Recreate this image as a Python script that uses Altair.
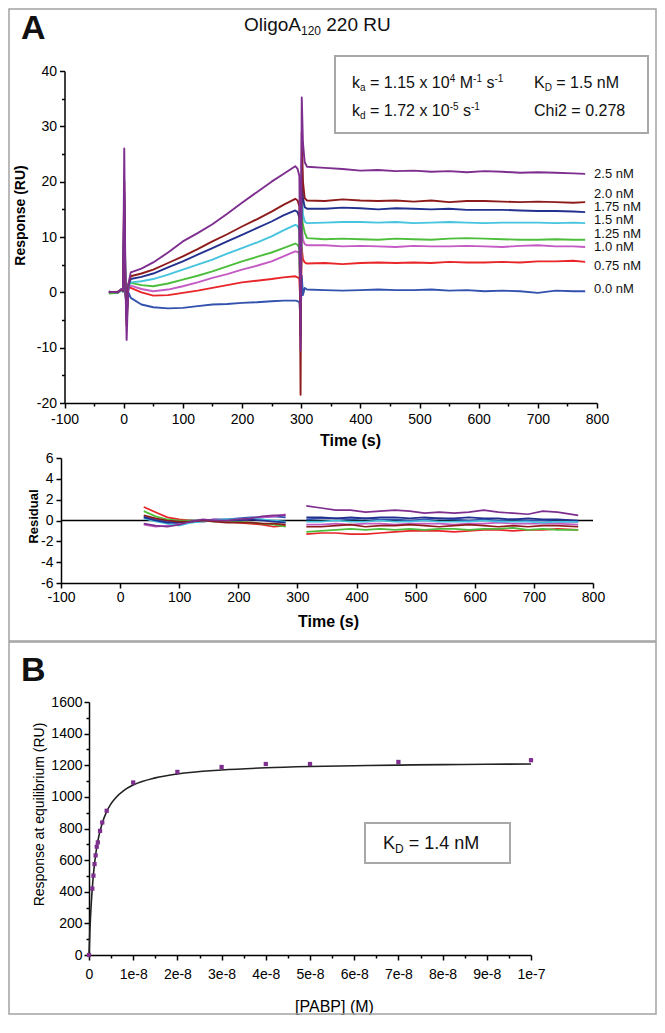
import altair as alt
import pandas as pd

# ---------------- data: sensorgram (panel A, top) ----------------
TIME = [-25, -10, -4, -1, 1, 3, 5, 8, 12,
        30, 50, 75, 100, 125, 150, 175, 200, 225, 250, 270, 290,
        294, 297, 299, 301, 303, 306,
        310, 340, 370, 400, 430, 460, 490, 520, 550, 580, 610, 640, 670, 700, 730, 760, 780]

CONCS = ["0.0 nM", "0.75 nM", "1.0 nM", "1.25 nM", "1.5 nM", "1.75 nM", "2.0 nM", "2.5 nM"]
COLORS = ["#3352AE", "#E8262A", "#C45BC4", "#4DBE3C", "#45C4DE", "#22318F", "#8E1B1B", "#7D2E8F"]
WIDTHS = [1.9, 1.9, 1.9, 3.0, 1.9, 1.9, 1.9, 1.9]

R_000 = [0.0, 0.0, 0.3, 0.1, 10.0, 0.0, -3.0, 0.0, -1.0,
         -2.2, -2.7, -2.9, -2.8, -2.5, -2.2, -2.1, -1.9, -1.8, -1.6, -1.5, -1.5,
         -1.6, -1.8, -5.0, 3.0, -0.5, 0.8,
         0.5, 0.4, 0.3, 0.4, 0.5, 0.4, 0.4, 0.5, 0.3, 0.4, 0.2, 0.3, 0.2, -0.1, 0.3, 0.2, 0.2]
R_075 = [0.0, 0.1, 0.3, 0.2, 11.0, 0.6, -3.0, 0.9, 0.8,
         0.0, -0.6, -0.5, -0.1, 0.3, 0.8, 1.3, 1.8, 2.1, 2.4, 2.7, 2.9,
         2.7, 2.5, -3.0, 8.0, 6.0, 5.4,
         5.2, 5.3, 5.1, 5.3, 5.4, 5.3, 5.4, 5.3, 5.5, 5.4, 5.4, 5.5, 5.4, 5.6, 5.6, 5.7, 5.5]
R_100 = [0.0, 0.0, 0.3, 0.2, 13.0, 0.8, -3.5, 1.0, 1.2,
         0.6, 0.2, 0.5, 1.1, 1.8, 2.6, 3.3, 4.1, 4.8, 5.6, 6.5, 7.4,
         7.3, 7.0, -4.0, 12.0, 9.5, 8.7,
         8.5, 8.5, 8.3, 8.4, 8.3, 8.2, 8.4, 8.3, 8.3, 8.4, 8.3, 8.2, 8.4, 8.5, 8.3, 8.3, 8.2]
R_125 = [-0.2, -0.1, 0.4, 0.2, 15.0, 1.0, -4.0, 1.5, 1.7,
         1.3, 1.1, 1.6, 2.3, 3.0, 3.8, 4.7, 5.6, 6.4, 7.2, 8.0, 8.8,
         8.6, 8.0, -5.0, 14.0, 12.2, 10.8,
         9.8, 9.6, 9.7, 9.6, 9.5, 9.7, 9.6, 9.5, 9.7, 9.8, 9.7, 9.6, 9.5, 9.5, 9.6, 9.5, 9.5]
R_150 = [0.0, 0.1, 0.4, 0.2, 16.0, 1.0, -4.5, 1.0, 1.8,
         2.0, 2.4, 3.2, 4.1, 5.0, 5.9, 7.0, 8.0, 9.0, 10.1, 11.2, 12.2,
         12.0, 11.2, -6.0, 20.0, 14.0, 12.8,
         12.5, 12.6, 12.7, 12.7, 12.6, 12.7, 12.5, 12.6, 12.7, 12.6, 12.5, 12.6, 12.6, 12.6, 12.5, 12.6, 12.5]
R_175 = [0.1, 0.0, 0.5, 0.3, 18.0, 1.2, -5.0, 1.2, 2.4,
         2.8, 3.4, 4.5, 5.6, 6.8, 8.0, 9.2, 10.4, 11.6, 12.8, 13.9, 14.8,
         14.5, 13.5, -8.0, 24.0, 17.0, 15.4,
         15.1, 15.1, 15.3, 15.2, 15.0, 15.2, 15.1, 15.0, 15.1, 14.9, 14.9, 14.9, 14.8, 14.7, 14.7, 14.6, 14.5]
R_200 = [0.0, 0.1, 0.5, 0.3, 20.0, 1.5, -6.0, 1.5, 2.9,
         3.4, 4.1, 5.3, 6.5, 7.8, 9.2, 10.5, 11.9, 13.2, 14.6, 15.8, 16.9,
         16.6, 15.5, -18.5, 29.0, 20.0, 17.0,
         16.6, 16.5, 16.8, 16.6, 16.5, 16.6, 16.4, 16.6, 16.3, 16.5, 16.5, 16.4, 16.3, 16.4, 16.3, 16.2, 16.3]
R_250 = [0.1, 0.0, 0.6, 0.4, 26.0, 2.0, -8.6, 1.5, 3.6,
         4.3, 5.4, 7.2, 9.2, 10.7, 12.3, 14.2, 16.2, 18.1, 20.0, 21.4, 22.8,
         22.3, 21.0, -10.5, 35.2, 27.0, 23.5,
         22.7, 22.5, 22.3, 22.0, 22.1, 21.9, 22.0, 21.8, 21.9, 21.7, 21.9, 21.8, 21.6, 21.7, 21.6, 21.5, 21.4]
SENSOR = [R_000, R_075, R_100, R_125, R_150, R_175, R_200, R_250]

LABEL_T = 795
LABEL_TEXT = ["2.5 nM", "2.0 nM", "1.75 nM", "1.5 nM", "1.25 nM", "1.0 nM", "0.75 nM", "0.0 nM"]
LABEL_Y = [21.4, 17.8, 15.4, 13.0, 10.6, 8.2, 4.8, 0.6]

# ---------------- data: residuals ----------------
RES_T_A = [40, 60, 80, 100, 120, 140, 160, 180, 200, 220, 240, 260, 280]
RES_T_D = [315, 340, 365, 390, 415, 440, 465, 490, 515, 540, 565, 590, 615, 640, 665, 690, 715, 740, 775]
RES_A = [
    [0.4, 0.1, -0.1, -0.1, 0.0, 0.0, 0.1, 0.1, 0.2, 0.3, 0.3, 0.4, 0.3],
    [1.3, 0.8, 0.3, 0.1, 0.0, -0.1, 0.0, -0.1, -0.2, -0.3, -0.4, -0.6, -0.5],
    [-0.4, -0.6, -0.5, -0.2, 0.0, 0.0, 0.1, 0.0, 0.0, 0.1, 0.3, 0.4, 0.6],
    [0.9, 0.4, 0.1, 0.0, 0.0, 0.0, -0.1, 0.0, -0.1, -0.2, -0.3, -0.4, -0.6],
    [0.2, -0.1, -0.3, -0.5, -0.2, -0.1, 0.0, 0.1, 0.1, 0.2, 0.1, 0.0, -0.1],
    [0.3, 0.0, -0.2, -0.2, -0.1, 0.0, 0.0, 0.0, 0.0, 0.1, 0.0, -0.1, -0.2],
    [0.5, 0.2, 0.0, -0.1, -0.1, 0.0, -0.1, -0.2, -0.2, -0.2, -0.3, -0.3, -0.4],
    [-0.3, -0.5, -0.6, -0.4, -0.1, 0.1, 0.0, 0.0, 0.1, 0.2, 0.4, 0.5, 0.5],
]
RES_D = [
    [0.1, 0.2, 0.2, 0.1, 0.2, 0.1, 0.1, 0.0, 0.1, 0.2, 0.1, 0.0, 0.1, 0.0, 0.1, 0.0, 0.0, -0.1, -0.1],
    [-1.3, -1.2, -1.2, -1.3, -1.3, -1.2, -1.1, -1.0, -1.0, -1.0, -1.1, -1.0, -0.9, -0.9, -1.0, -0.9, -0.9, -0.8, -0.9],
    [-0.4, -0.4, -0.3, -0.4, -0.3, -0.3, -0.4, -0.3, -0.3, -0.3, -0.4, -0.3, -0.3, -0.2, -0.3, -0.3, -0.3, -0.3, -0.4],
    [-1.1, -1.0, -0.9, -0.8, -0.9, -0.8, -0.9, -0.8, -0.9, -0.8, -0.8, -0.9, -0.8, -0.8, -0.7, -0.9, -0.8, -0.9, -0.9],
    [-0.1, -0.1, 0.0, -0.1, -0.1, 0.0, -0.1, -0.1, 0.0, -0.1, -0.1, -0.1, 0.0, -0.1, -0.1, -0.1, -0.2, -0.1, -0.1],
    [0.3, 0.3, 0.2, 0.3, 0.2, 0.3, 0.3, 0.2, 0.3, 0.2, 0.2, 0.3, 0.2, 0.2, 0.1, 0.2, 0.1, 0.1, 0.0],
    [-0.6, -0.6, -0.5, -0.4, -0.6, -0.5, -0.5, -0.4, -0.5, -0.6, -0.5, -0.4, -0.5, -0.6, -0.5, -0.6, -0.5, -0.5, -0.6],
    [1.4, 1.2, 1.0, 1.0, 0.8, 0.9, 1.0, 0.9, 0.7, 0.8, 0.7, 0.8, 1.0, 0.8, 0.7, 0.6, 0.9, 0.8, 0.5],
]

# ---------------- data: panel B ----------------
PT_C = [0, 0.75, 1.0, 1.25, 1.5, 1.75, 2.0, 2.5, 3.0, 4.0, 10, 20, 30, 40, 50, 70, 100]   # nM
PT_R = [0, 420, 502, 575, 630, 685, 712, 785, 838, 912, 1091, 1158, 1189, 1208, 1208, 1221, 1232]
FIT_C = [0, 0.2, 0.5, 1, 1.5, 2, 3, 4, 5, 6, 8, 10, 15, 20, 30, 40, 50, 60, 70, 80, 90, 100]
FIT_R = [0, 153, 322, 510, 634, 721, 835, 907, 957, 993, 1043, 1075, 1120, 1145, 1170, 1184, 1192, 1197, 1201, 1204, 1206, 1208]

# ---------------- tables ----------------
rows = []
for i, (c, vals) in enumerate(zip(CONCS, SENSOR)):
    for t, v in zip(TIME, vals):
        rows.append({"t": t, "v": v, "conc": c, "k": i})
df_sensor = pd.DataFrame(rows)
df_labels = pd.DataFrame({"t": [LABEL_T] * len(LABEL_TEXT), "v": LABEL_Y, "label": LABEL_TEXT})

rrows = []
for i, c in enumerate(CONCS):
    for t, r in zip(RES_T_A, RES_A[i]):
        rrows.append({"t": t, "r": r, "conc": c, "seg": c + "a"})
    for t, r in zip(RES_T_D, RES_D[i]):
        rrows.append({"t": t, "r": r, "conc": c, "seg": c + "d"})
df_res = pd.DataFrame(rrows)
df_zero = pd.DataFrame({"t": [-100], "t2": [800], "r": [0]})

df_pts = pd.DataFrame({"c": PT_C, "r": PT_R})
df_fit = pd.DataFrame({"c": FIT_C, "r": FIT_R})

ONE = pd.DataFrame({"k": [0]})
INK = "#111111"
FRAME = "#a3a3a3"


def txt(s, x, y, size, weight="normal", align="left", baseline="alphabetic"):
    return alt.Chart(ONE).mark_text(text=s, fontSize=size, fontWeight=weight, align=align,
                                    baseline=baseline, color=INK).encode(
        x=alt.value(x), y=alt.value(y))


def box(x1, x2, y1, y2, color, width):
    return alt.Chart(ONE).mark_rect(fillOpacity=0, stroke=color, strokeWidth=width).encode(
        x=alt.value(x1), x2=alt.value(x2), y=alt.value(y1), y2=alt.value(y2))


color_enc = alt.Color("conc:N", scale=alt.Scale(domain=CONCS, range=COLORS), legend=None)

# ---------------- panel A top ----------------
x_top = alt.X("t:Q", scale=alt.Scale(domain=[-100, 800], range=[3.5, 536]),
              axis=alt.Axis(values=list(range(-100, 801, 50)),
                            labelExpr="datum.value % 100 == 0 ? '' + datum.value : ''",
                            tickSize={"condition": {"test": "datum.value % 100 != 0", "value": 3}, "value": 5},
                            labelPadding=4, title="Time (s)", titleX=289, titleY=37,
                            titleAlign="center", titleBaseline="middle",
                            titleFontSize=16, titleFontWeight="bold"))
y_top = alt.Y("v:Q", scale=alt.Scale(domain=[-20, 40]),
              axis=alt.Axis(values=list(range(-20, 41, 5)),
                            labelExpr="datum.value % 10 == 0 ? '' + datum.value : ''",
                            tickSize={"condition": {"test": "datum.value % 10 != 0", "value": 3}, "value": 5},
                            labelPadding=3, offset=-3.5, title="Response (RU)",
                            titleX=-44.5, titleY=144, titleAngle=270,
                            titleAlign="center", titleBaseline="middle",
                            titleFontSize=14, titleFontWeight="bold"))

lines_top = alt.Chart(df_sensor).mark_line(strokeJoin="round").encode(
    x=x_top, y=y_top, color=color_enc,
    strokeWidth=alt.StrokeWidth("conc:N", scale=alt.Scale(domain=CONCS, range=WIDTHS), legend=None),
    detail="conc:N")
labels_top = alt.Chart(df_labels).mark_text(align="left", baseline="middle", fontSize=13, color=INK).encode(
    x=x_top, y=y_top, text="label:N")

top = alt.layer(
    box(-52, 595, -62, 570, FRAME, 1.5),
    txt("A", -40, -32, 34, weight="bold"),
    txt("OligoA", 183, -40, 19),
    txt("120", 240, -36, 12),
    txt("220 RU", 265.3, -40, 19),
    box(274, 587, -15, 62, "#a8a8a8", 2),
    txt("k", 291, 17, 16), txt("a", 299, 20, 10), txt("= 1.15 x 10", 309, 17, 16),
    txt("4", 388.7, 11, 10), txt("M", 398.7, 17, 16), txt("-1", 412.1, 11, 10),
    txt("s", 425.4, 17, 16), txt("-1", 433.4, 11, 10),
    txt("K", 473, 17, 16), txt("D", 483.7, 20, 10), txt("= 1.5 nM", 495.3, 17, 16),
    txt("k", 291, 45, 16), txt("d", 299, 48, 10), txt("= 1.72 x 10", 309, 45, 16),
    txt("-5", 388.7, 39, 10), txt("s", 402, 45, 16), txt("-1", 410, 39, 10),
    txt("Chi2 = 0.278", 473, 45, 16),
    lines_top, labels_top,
).properties(width=536, height=332)

# ---------------- panel A residuals ----------------
x_res = alt.X("t:Q", scale=alt.Scale(domain=[-100, 800], range=[0, 532]),
              axis=alt.Axis(values=list(range(-100, 801, 100)), labelExpr="'' + datum.value",
                            tickSize=5, labelPadding=2, title="Time (s)", titleX=267, titleY=38,
                            titleAlign="center", titleBaseline="middle",
                            titleFontSize=16, titleFontWeight="bold"))
y_res = alt.Y("r:Q", scale=alt.Scale(domain=[-6, 6]),
              axis=alt.Axis(values=list(range(-6, 7, 2)), labelExpr="'' + datum.value",
                            tickSize=5, labelPadding=3, title="Residual",
                            titleX=-28, titleY=58, titleAngle=270,
                            titleAlign="center", titleBaseline="middle",
                            titleFontSize=13, titleFontWeight="bold"))

zero_rule = alt.Chart(df_zero).mark_rule(color="black", strokeWidth=1.5).encode(
    x=x_res, x2="t2:Q", y=y_res)
res_lines = alt.Chart(df_res).mark_line(strokeWidth=1.7).encode(
    x=x_res, y=y_res, color=color_enc, detail="seg:N")
resid = alt.layer(zero_rule, res_lines).properties(width=532, height=125)

spacer = alt.Chart(ONE).mark_text(text=" ").encode(
    x=alt.value(0), y=alt.value(0)).properties(width=10, height=9)

# ---------------- panel B ----------------
x_b = alt.X("c:Q", scale=alt.Scale(domain=[0, 100], range=[28, 470]),
            axis=alt.Axis(values=list(range(0, 101, 5)),
                          labelExpr="datum.value % 10 != 0 ? '' : (datum.value == 0 ? '0' : (datum.value == 100 ? '1e-7' : (datum.value / 10) + 'e-8'))",
                          tickSize={"condition": {"test": "datum.value % 10 != 0", "value": 3}, "value": 5},
                          labelPadding=7, title="[PABP] (M)", titleX=273, titleY=51,
                          titleAlign="center", titleBaseline="middle",
                          titleFontSize=16, titleFontWeight="normal"))
y_b = alt.Y("r:Q", scale=alt.Scale(domain=[0, 1600]),
            axis=alt.Axis(values=list(range(0, 1601, 100)),
                          labelExpr="datum.value % 200 == 0 ? '' + datum.value : ''",
                          tickSize={"condition": {"test": "datum.value % 200 != 0", "value": 3}, "value": 5},
                          labelPadding=2, offset=-28, title="Response at equilibrium (RU)",
                          titleX=-50, titleY=112, titleAngle=270,
                          titleAlign="center", titleBaseline="middle",
                          titleFontSize=14, titleFontWeight="normal"))

fit_line = alt.Chart(df_fit).mark_line(color="#222222", strokeWidth=1.6, interpolate="monotone").encode(
    x=x_b, y=y_b)
pts = alt.Chart(df_pts).mark_square(color="#7D2E8F", size=18, opacity=1).encode(x=x_b, y=y_b)

panel_b = alt.layer(
    box(-52, 595, -60, 312, FRAME, 1.5),
    txt("B", -40, -21, 34, weight="bold"),
    box(304, 449, 121, 161, "#a8a8a8", 2),
    txt("K", 322, 147, 18), txt("D", 334, 151, 12), txt("= 1.4 nM", 347.7, 147, 18),
    fit_line, pts,
).properties(width=470, height=253)

chart = alt.vconcat(top, resid, spacer, panel_b, spacing=55, bounds="flush").properties(
    padding=0
).configure(
    font="Liberation Sans"
).configure_view(
    strokeWidth=0
).configure_axis(
    grid=False, domainColor="black", domainWidth=1.5, tickColor="black", tickWidth=1.5,
    labelColor="black", titleColor="black", labelFontSize=14, labelFont="Liberation Sans",
    titleFont="Liberation Sans", labelFlush=False, labelOverlap=False
)

chart.save("out.html", embed_options={"renderer": "svg", "actions": False})
